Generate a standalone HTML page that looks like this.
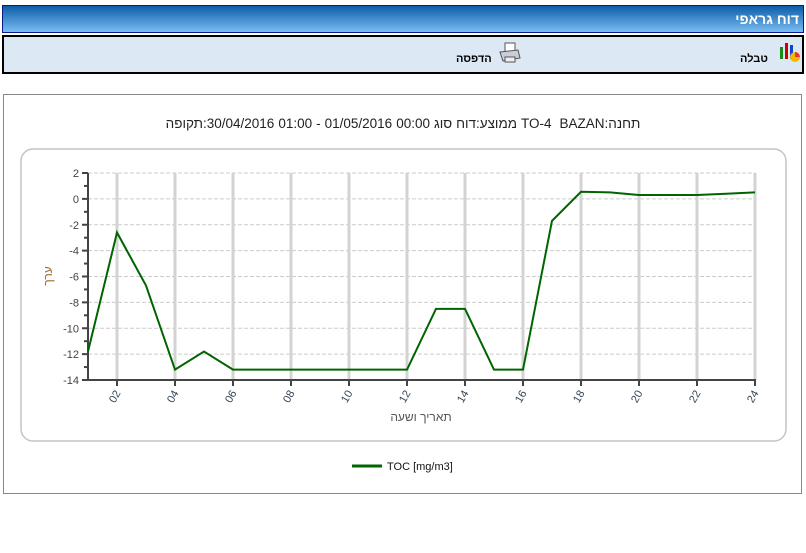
<!DOCTYPE html>
<html><head><meta charset="utf-8"><style>
body{margin:0;width:806px;height:553px;background:#fff;position:relative;overflow:hidden;font-family:"Liberation Sans",Arial,sans-serif}
.hdr{position:absolute;left:2px;top:5px;width:800px;height:26px;border:1px solid #0a1a8a;background:linear-gradient(#0d5da8,#79bdf2)}
.hdr span{position:absolute;right:4px;top:5px;color:#fff;font-weight:bold;font-size:14px}
.tb{position:absolute;left:2px;top:35px;width:798px;height:35px;border:2px solid #000;background:#dde8f5}
.tb span{position:absolute;font-size:11px;font-weight:bold}
.frame{position:absolute;left:3px;top:94px;width:797px;height:398px;border:1px solid #888}
.ttl{position:absolute;left:0;width:806px;top:116px;height:18px;font-size:13.5px;color:#222}
.ttl span{position:absolute;top:0;white-space:pre}
</style></head><body>
<div class="hdr"><span>דוח גראפי</span></div>
<div class="tb">
<span style="left:736px;top:16px">טבלה</span>
<svg style="position:absolute;left:773px;top:3px" width="24" height="24"><rect x="3" y="7" width="3" height="12" fill="#1a8a1a"/><rect x="8" y="3" width="3" height="16" fill="#c00"/><rect x="13" y="5" width="3" height="14" fill="#14c"/><circle cx="18" cy="17" r="5" fill="#f5b800"/><path d="M18 17 L18 12 A5 5 0 0 1 23 17Z" fill="#e33"/></svg>
<span style="left:452px;top:16px">הדפסה</span>
<svg style="position:absolute;left:494px;top:4px" width="24" height="24"><rect x="7" y="2" width="10" height="9" fill="#fff" stroke="#555"/><path d="M2 11 L20 9 L22 17 L5 20Z" fill="#ccd" stroke="#555"/><rect x="7" y="16" width="10" height="5" fill="#eee" stroke="#555"/></svg>
</div>
<div class="frame"></div>
<div class="ttl" id="ttl"><span>תקופה</span><span>:</span><span>30/04/2016</span><span>01:00</span><span>-</span><span>01/05/2016</span><span>00:00</span><span>סוג</span><span>דוח</span><span>:</span><span>ממוצע</span><span>TO-4</span><span>BAZAN</span><span>:</span><span>תחנה</span></div>
<svg style="position:absolute;left:0;top:0" width="806" height="553" id="chart">
<rect x="21" y="149" width="765" height="292" rx="12" fill="none" stroke="#c4c4c4" stroke-width="1.5"/>
<g id="g"></g>
<text x="52" y="276" transform="rotate(-90 52 276)" text-anchor="middle" font-size="12" fill="#a06a30">ערך</text>
<text x="421" y="421" text-anchor="middle" font-size="12" fill="#555">תאריך ושעה</text>
<line x1="352" y1="466" x2="382" y2="466" stroke="#006400" stroke-width="3"/>
<text x="387" y="470" font-size="11" fill="#111">TOC [mg/m3]</text>
</svg>
<script>
(function(){
 const gaps=[0,0,0,4,4,4,4,4,4,0,0,4,8,0,0];
 const sp=[...document.querySelectorAll('#ttl span')];
 let w=0;const ws=sp.map((s,i)=>{const x=s.getBoundingClientRect().width;w+=x+gaps[i];return x;});
 let x=(806-w)/2;
 sp.forEach((s,i)=>{x+=gaps[i];s.style.left=x+'px';x+=ws[i];});
})();
const hours=[1,2,3,4,5,6,7,8,9,10,11,12,13,14,15,16,17,18,19,20,21,22,23,24];
const toc=[-11.8,-2.6,-6.7,-13.2,-11.8,-13.2,-13.2,-13.2,-13.2,-13.2,-13.2,-13.2,-8.5,-8.5,-13.2,-13.2,-1.7,0.55,0.5,0.3,0.3,0.3,0.4,0.5];
const yTicks=[2,0,-2,-4,-6,-8,-10,-12,-14];
const xTickLabels=["02","04","06","08","10","12","14","16","18","20","22","24"];
const NS="http://www.w3.org/2000/svg";
const X0=88,X1=755,Y0=173,Y1=380,YMAX=2,YMIN=-14;
const xs=h=>X0+(h-1)*(X1-X0)/23;
const ys=v=>Y0+(YMAX-v)*(Y1-Y0)/(YMAX-YMIN);
const g=document.getElementById('g');
function mk(t,a){const e=document.createElementNS(NS,t);for(const k in a)e.setAttribute(k,a[k]);g.appendChild(e);return e;}
yTicks.forEach(v=>{
 const l=mk('line',{x1:X0,x2:X1,y1:ys(v),y2:ys(v),stroke:'#ccc','stroke-dasharray':'4,2'});
 
 
 const tk=mk('line',{x1:X0-6,x2:X0,y1:ys(v),y2:ys(v),stroke:'#444','stroke-width':2});
 
 
 const t=mk('text',{x:X0-9,y:ys(v)+4,'text-anchor':'end','font-size':11,fill:'#444'});
 t.textContent=v;
 
 
 if(v>YMIN){const m=mk('line',{x1:X0-4,x2:X0,y1:ys(v-1),y2:ys(v-1),stroke:'#444','stroke-width':2});
 
 }
});
xTickLabels.forEach(s=>{
 const h=parseInt(s,10),x=xs(h);
 const l=mk('line',{x1:x,x2:x,y1:Y0,y2:Y1,stroke:'#d3d3d3','stroke-width':3});
 
 
 const tk=mk('line',{x1:x,x2:x,y1:Y1,y2:Y1+6,stroke:'#444','stroke-width':2});
 
 
 const t=mk('text',{x:x+4,y:Y1+13,'text-anchor':'end','font-size':11,fill:'#345',transform:`rotate(-60 ${x+4} ${Y1+13})`});
 t.textContent=s;
 
 
});
const ax=mk('path',{d:`M${X0} ${Y0} V${Y1} H${X1+1}`,fill:'none',stroke:'#444','stroke-width':2});


const p=mk('polyline',{points:hours.map((h,i)=>xs(h)+','+ys(toc[i])).join(' '),fill:'none',stroke:'#006400','stroke-width':2});


</script>
</body></html>
